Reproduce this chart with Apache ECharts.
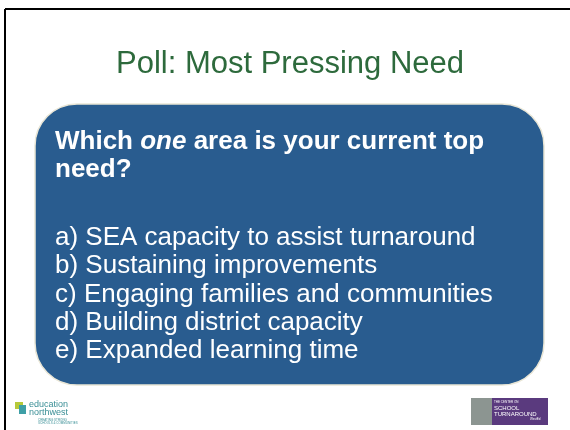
<!DOCTYPE html>
<html><head><meta charset="utf-8">
<script src="https://cdn.jsdelivr.net/npm/echarts@6/dist/echarts.min.js"></script>
<style>html,body{margin:0;padding:0;background:#fff}#c{width:570px;height:430px}</style>
</head><body><div id="c"></div>
<script>
const titleText = 'Poll: Most Pressing Need';
const questionParts = ['Which ', 'one', ' area is your current top', 'need?'];
const options = [
  'a) SEA capacity to assist turnaround',
  'b) Sustaining improvements',
  'c) Engaging families and communities',
  'd) Building district capacity',
  'e) Expanded learning time'
];
const FONT = '"Liberation Sans", Arial, sans-serif';
const chart = echarts.init(document.getElementById('c'), null, {renderer:'canvas'});
const g = [];
// slide border (top and left)
g.push({type:'line', shape:{x1:5,y1:9,x2:570,y2:9}, style:{stroke:'#000',lineWidth:2}});
g.push({type:'line', shape:{x1:5,y1:9,x2:5,y2:430}, style:{stroke:'#000',lineWidth:2}});
// title
g.push({type:'text', x:290, y:64, style:{text:titleText, font:'31px '+FONT, fill:'#2d6a3c', align:'center', verticalAlign:'middle'}});
// box
g.push({type:'rect', shape:{x:35,y:104,width:509,height:281,r:42}, style:{fill:'#295c8f', stroke:'#e9e6d6', lineWidth:1.5}});
// question
g.push({type:'text', x:55, y:156, style:{
  text:'{b|'+questionParts[0]+'}{bi|'+questionParts[1]+'}{b|'+questionParts[2]+'}\n{b|'+questionParts[3]+'}',
  verticalAlign:'middle', lineHeight:28,
  rich:{b:{font:'bold 26px '+FONT, fill:'#fff', lineHeight:28}, bi:{font:'italic bold 26px '+FONT, fill:'#fff', lineHeight:28}}
}});
// options
options.forEach((t,i)=>{
  g.push({type:'text', x:55, y:238+i*28.3, style:{text:t, font:'26px '+FONT, fill:'#fff', verticalAlign:'middle'}});
});
// education northwest logo
g.push({type:'rect', shape:{x:15,y:402,width:8,height:7}, style:{fill:'#b6c93a'}});
g.push({type:'rect', shape:{x:19,y:405,width:7,height:9}, style:{fill:'#3e9fa6'}});
g.push({type:'text', x:29, y:400, style:{text:'education\nnorthwest', font:'9px '+FONT, fill:'#3a8f96', lineHeight:8.5, verticalAlign:'top'}});
g.push({type:'text', x:38, y:418, style:{text:'CREATING STRONG\nSCHOOLS & COMMUNITIES', font:'3px '+FONT, fill:'#3a8f96', lineHeight:3.5, verticalAlign:'top'}});
// school turnaround logo
g.push({type:'rect', shape:{x:471,y:398,width:21,height:27}, style:{fill:'#8c9591'}});
g.push({type:'rect', shape:{x:492,y:398,width:56,height:27}, style:{fill:'#5a3a7e'}});
g.push({type:'text', x:494, y:401, style:{text:'THE CENTER ON', font:'3px '+FONT, fill:'#fff'}});
g.push({type:'text', x:494, y:405, style:{text:'SCHOOL\nTURNAROUND', font:'6px '+FONT, fill:'#fff', lineHeight:6}});
g.push({type:'text', x:530, y:418, style:{text:'WestEd', font:'3px '+FONT, fill:'#fff'}});
chart.setOption({animation:false, graphic:g});
</script></body></html>
